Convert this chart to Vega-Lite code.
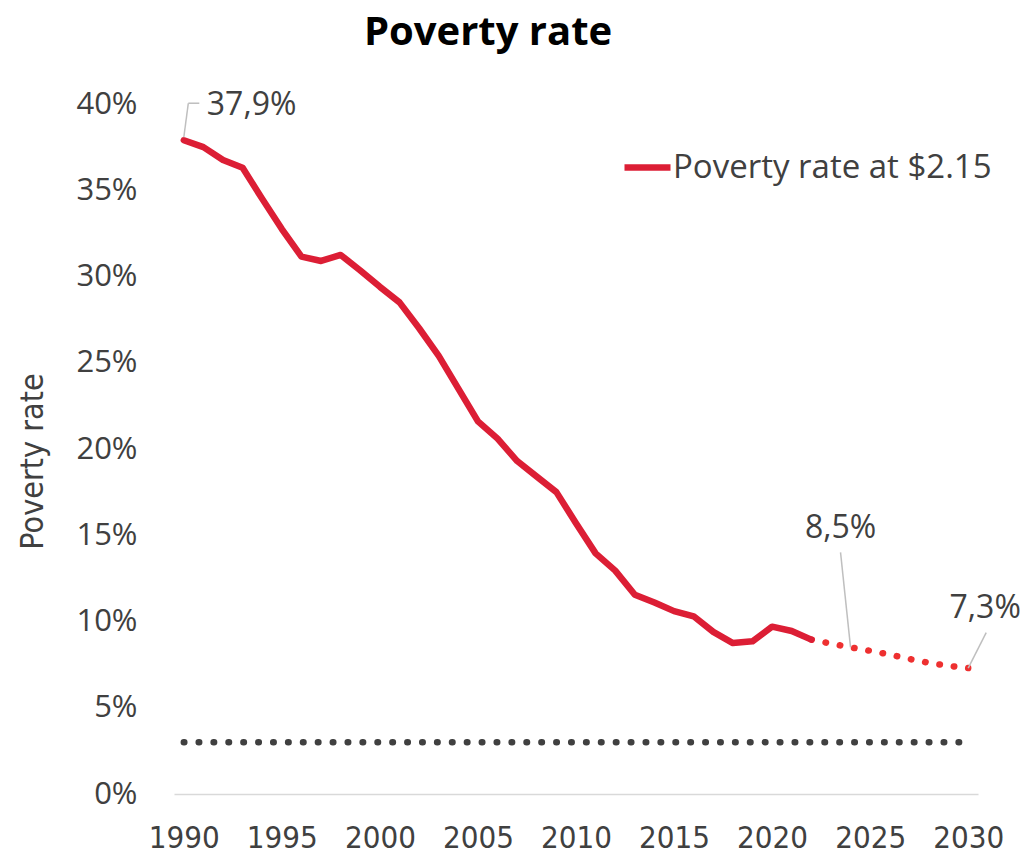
{
  "$schema": "https://vega.github.io/schema/vega-lite/v6.json",
  "autosize": {"type": "none"},
  "width": 804,
  "height": 690,
  "padding": {"left": 174, "top": 104, "right": 49, "bottom": 65},
  "background": "white",
  "title": {
    "text": "Poverty rate",
    "font": "Open Sans",
    "fontSize": 40,
    "fontWeight": "bold",
    "color": "#000000",
    "anchor": "middle",
    "frame": "group",
    "baseline": "top",
    "offset": 35,
    "dx": -88
  },
  "config": {
    "view": {"stroke": null},
    "text": {"font": "Open Sans"}
  },
  "datasets": {
    "hist": [
      {"year": 1990, "rate": 37.9, "series": "Poverty rate at $2.15"},
      {"year": 1991, "rate": 37.5, "series": "Poverty rate at $2.15"},
      {"year": 1992, "rate": 36.75, "series": "Poverty rate at $2.15"},
      {"year": 1993, "rate": 36.3, "series": "Poverty rate at $2.15"},
      {"year": 1994, "rate": 34.5, "series": "Poverty rate at $2.15"},
      {"year": 1995, "rate": 32.75, "series": "Poverty rate at $2.15"},
      {"year": 1996, "rate": 31.15, "series": "Poverty rate at $2.15"},
      {"year": 1997, "rate": 30.9, "series": "Poverty rate at $2.15"},
      {"year": 1998, "rate": 31.25, "series": "Poverty rate at $2.15"},
      {"year": 1999, "rate": 30.35, "series": "Poverty rate at $2.15"},
      {"year": 2000, "rate": 29.4, "series": "Poverty rate at $2.15"},
      {"year": 2001, "rate": 28.5, "series": "Poverty rate at $2.15"},
      {"year": 2002, "rate": 27.0, "series": "Poverty rate at $2.15"},
      {"year": 2003, "rate": 25.4, "series": "Poverty rate at $2.15"},
      {"year": 2004, "rate": 23.5, "series": "Poverty rate at $2.15"},
      {"year": 2005, "rate": 21.6, "series": "Poverty rate at $2.15"},
      {"year": 2006, "rate": 20.6, "series": "Poverty rate at $2.15"},
      {"year": 2007, "rate": 19.3, "series": "Poverty rate at $2.15"},
      {"year": 2008, "rate": 18.4, "series": "Poverty rate at $2.15"},
      {"year": 2009, "rate": 17.5, "series": "Poverty rate at $2.15"},
      {"year": 2010, "rate": 15.7, "series": "Poverty rate at $2.15"},
      {"year": 2011, "rate": 13.95, "series": "Poverty rate at $2.15"},
      {"year": 2012, "rate": 12.95, "series": "Poverty rate at $2.15"},
      {"year": 2013, "rate": 11.55, "series": "Poverty rate at $2.15"},
      {"year": 2014, "rate": 11.1, "series": "Poverty rate at $2.15"},
      {"year": 2015, "rate": 10.6, "series": "Poverty rate at $2.15"},
      {"year": 2016, "rate": 10.3, "series": "Poverty rate at $2.15"},
      {"year": 2017, "rate": 9.4, "series": "Poverty rate at $2.15"},
      {"year": 2018, "rate": 8.75, "series": "Poverty rate at $2.15"},
      {"year": 2019, "rate": 8.85, "series": "Poverty rate at $2.15"},
      {"year": 2020, "rate": 9.7, "series": "Poverty rate at $2.15"},
      {"year": 2021, "rate": 9.45, "series": "Poverty rate at $2.15"},
      {"year": 2022, "rate": 8.95, "series": "Poverty rate at $2.15"}
    ],
    "proj": [
      {"year": 2022, "rate": 8.95},
      {"year": 2023, "rate": 8.72},
      {"year": 2024, "rate": 8.5},
      {"year": 2025, "rate": 8.3},
      {"year": 2026, "rate": 8.08},
      {"year": 2027, "rate": 7.83},
      {"year": 2028, "rate": 7.6},
      {"year": 2029, "rate": 7.43},
      {"year": 2030, "rate": 7.3}
    ],
    "target": [
      {"year": 1990, "rate": 3},
      {"year": 2030, "rate": 3}
    ],
    "notes": [
      {"key": "a", "year": 1990, "rate": 37.9, "label": "37,9%"},
      {"key": "b", "year": 2024, "rate": 8.5, "label": "8,5%"},
      {"key": "c", "year": 2030, "rate": 7.3, "label": "7,3%"}
    ]
  },
  "encoding": {
    "x": {
      "field": "year",
      "type": "quantitative",
      "scale": {"domain": [1989.5, 2030.5], "nice": false, "zero": false},
      "axis": {
        "title": null,
        "values": [1990, 1995, 2000, 2005, 2010, 2015, 2020, 2025, 2030],
        "format": "d",
        "grid": false,
        "ticks": false,
        "domainColor": "#D9D9D9",
        "domainWidth": 1.5,
        "labelFont": "DejaVu Sans Condensed",
        "labelFontSize": 31,
        "labelColor": "#404040",
        "labelPadding": 29,
        "labelFlush": false,
        "labelOverlap": false
      }
    },
    "y": {
      "field": "rate",
      "type": "quantitative",
      "scale": {"domain": [0, 40], "nice": false},
      "axis": {
        "title": "Poverty rate",
        "values": [0, 5, 10, 15, 20, 25, 30, 35, 40],
        "labelExpr": "datum.value + '%'",
        "grid": false,
        "ticks": false,
        "domain": false,
        "labelFont": "Open Sans",
        "labelFontSize": 31,
        "labelColor": "#404040",
        "labelPadding": 37,
        "titleFont": "DejaVu Sans Condensed",
        "titleFontSize": 32,
        "titleFontWeight": "normal",
        "titleColor": "#404040",
        "titleAngle": -90,
        "titleAlign": "center",
        "titleBaseline": "middle",
        "titleX": -142,
        "titleY": 357
      }
    }
  },
  "layer": [
    {
      "data": {"name": "target"},
      "mark": {"type": "line", "color": "#404040", "strokeWidth": 6.5, "strokeDash": [0.5, 14.4], "strokeCap": "round"}
    },
    {
      "data": {"name": "proj"},
      "mark": {"type": "line", "color": "#EE3030", "strokeWidth": 6.5, "strokeDash": [0.5, 14], "strokeCap": "round"}
    },
    {
      "data": {"name": "hist"},
      "mark": {"type": "line", "strokeWidth": 6.5, "strokeCap": "round", "strokeJoin": "round"},
      "encoding": {
        "color": {
          "field": "series",
          "type": "nominal",
          "scale": {"domain": ["Poverty rate at $2.15"], "range": ["#DC1E35"]},
          "legend": {
            "title": null,
            "orient": "none",
            "legendX": 447,
            "legendY": 37,
            "padding": 0,
            "symbolType": "stroke",
            "symbolSize": 2116,
            "symbolStrokeWidth": 6.5,
            "labelFont": "Open Sans",
            "labelFontSize": 33,
            "labelColor": "#404040",
            "labelOffset": -1,
            "labelLimit": 500
          }
        }
      }
    },
    {
      "data": {"name": "notes"},
      "transform": [{"filter": "datum.key == 'a'"}],
      "layer": [
        {
          "mark": {"type": "rule", "color": "#BFBFBF", "strokeWidth": 1.5, "yOffset": -3, "x2Offset": 4.5, "y2Offset": -37},
          "encoding": {"x2": {"field": "year"}, "y2": {"field": "rate"}}
        },
        {
          "mark": {"type": "rule", "color": "#BFBFBF", "strokeWidth": 1.5, "xOffset": 4.5, "yOffset": -37, "x2Offset": 15.5, "y2Offset": -37},
          "encoding": {"x2": {"field": "year"}, "y2": {"field": "rate"}}
        },
        {
          "mark": {"type": "text", "align": "left", "baseline": "middle", "dx": 23, "dy": -35, "fontSize": 32, "color": "#404040"},
          "encoding": {"text": {"field": "label"}}
        }
      ]
    },
    {
      "data": {"name": "notes"},
      "transform": [{"filter": "datum.key == 'b'"}],
      "layer": [
        {
          "mark": {"type": "rule", "color": "#BFBFBF", "strokeWidth": 1.5, "x2Offset": -10, "y2Offset": -95},
          "encoding": {"x2": {"field": "year"}, "y2": {"field": "rate"}}
        },
        {
          "mark": {"type": "text", "align": "center", "baseline": "middle", "dx": -10, "dy": -119, "fontSize": 32, "color": "#404040"},
          "encoding": {"text": {"field": "label"}}
        }
      ]
    },
    {
      "data": {"name": "notes"},
      "transform": [{"filter": "datum.key == 'c'"}],
      "layer": [
        {
          "mark": {"type": "rule", "color": "#BFBFBF", "strokeWidth": 1.5, "x2Offset": 18, "y2Offset": -35.5},
          "encoding": {"x2": {"field": "year"}, "y2": {"field": "rate"}}
        },
        {
          "mark": {"type": "text", "align": "center", "baseline": "middle", "dx": 17, "dy": -60, "fontSize": 32, "color": "#404040"},
          "encoding": {"text": {"field": "label"}}
        }
      ]
    }
  ]
}
